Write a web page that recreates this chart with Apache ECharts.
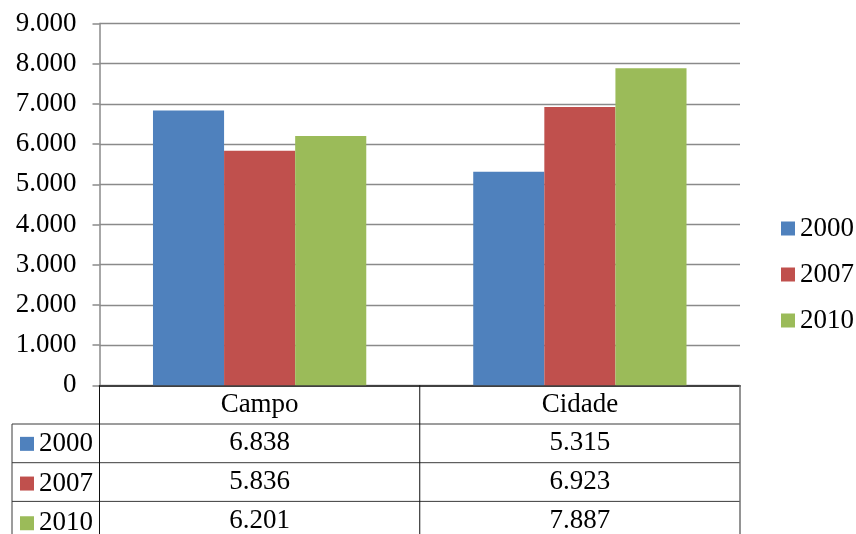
<!DOCTYPE html>
<html>
<head>
<meta charset="utf-8">
<script src="https://cdn.jsdelivr.net/npm/echarts@6/dist/echarts.min.js"></script>
<style>
  html, body { margin: 0; padding: 0; background: #fff; }
  #chart { width: 856px; height: 534px; }
</style>
</head>
<body>
<div id="chart"></div>
<script>
// Population by area and year
const categories = ['Campo', 'Cidade'];
const years = ['2000', '2007', '2010'];
const values2000 = [6838, 5315];
const values2007 = [5836, 6923];
const values2010 = [6201, 7887];
const colors = ['#4F81BD', '#C0504D', '#9BBB59'];

const seriesValues = [values2000, values2007, values2010];

// Layout of the plot and the data table beneath it
const W = 856, H = 534;
const GRID_LEFT = 99.5, GRID_RIGHT_X = 740, GRID_TOP = 23.5, GRID_BOTTOM_Y = 385.3;
const ROW_H = 38.7;
const TABLE_LEFT = 12;
const FONT = '"Liberation Serif", "Times New Roman", serif';
const FS = 27;

// Brazilian thousands separator
function fmt(v) {
  return String(v).replace(/\B(?=(\d{3})+(?!\d))/g, '.');
}

const chart = echarts.init(document.getElementById('chart'), null, { renderer: 'canvas' });

// Table grid lines
const tableLines = [];
const tableBottom = H + 2;
const firstRowY = GRID_BOTTOM_Y + ROW_H;
for (let r = 0; r < years.length; r++) {
  const y = firstRowY + r * ROW_H;
  tableLines.push({ type: 'line', shape: { x1: TABLE_LEFT, y1: y, x2: GRID_RIGHT_X, y2: y }, style: { stroke: '#3a3a3a', lineWidth: 1 }, z: 10 });
}
tableLines.push({ type: 'line', shape: { x1: TABLE_LEFT, y1: firstRowY, x2: TABLE_LEFT, y2: tableBottom }, style: { stroke: '#3a3a3a', lineWidth: 1 }, z: 10 });
const catW = (GRID_RIGHT_X - GRID_LEFT) / categories.length;
for (let c = 0; c <= categories.length; c++) {
  const x = GRID_LEFT + c * catW;
  tableLines.push({ type: 'line', shape: { x1: x, y1: GRID_BOTTOM_Y, x2: x, y2: tableBottom }, style: { stroke: c === categories.length ? '#707070' : '#111', lineWidth: c === categories.length ? 1.5 : 1 }, z: 10 });
}

const LH = 26;
const legendText = { fontFamily: FONT, fontSize: FS, color: '#000', lineHeight: LH };

const option = {
  animation: false,
  backgroundColor: '#fff',
  textStyle: { fontFamily: FONT, color: '#000' },
  color: colors,
  grid: {
    left: GRID_LEFT,
    right: W - GRID_RIGHT_X,
    top: GRID_TOP,
    bottom: H - GRID_BOTTOM_Y,
    containLabel: false,
    outerBoundsMode: 'none'
  },
  legend: [
    {
      orient: 'vertical',
      left: 781,
      top: 215,
      padding: 0,
      itemWidth: 14,
      itemHeight: 14,
      itemGap: 19,
      icon: 'rect',
      selectedMode: false,
      data: years,
      textStyle: legendText
    },
    {
      orient: 'vertical',
      left: 20,
      top: firstRowY + ROW_H / 2 - LH / 2,
      height: 200,
      padding: 0,
      itemWidth: 14,
      itemHeight: 14,
      itemGap: ROW_H - LH,
      icon: 'rect',
      selectedMode: false,
      data: years,
      textStyle: legendText
    }
  ],
  xAxis: {
    type: 'category',
    data: categories,
    axisLine: { show: true, lineStyle: { color: '#404040', width: 2 } },
    axisTick: { show: false },
    splitLine: { show: false },
    axisLabel: {
      interval: 0,
      margin: 0,
      fontFamily: FONT,
      fontSize: FS,
      color: '#000',
      lineHeight: ROW_H,
      verticalAlign: 'top',
      formatter: function (cat, idx) {
        const lines = [cat];
        seriesValues.forEach(function (arr) { lines.push(fmt(arr[idx])); });
        return lines.join('\n');
      }
    }
  },
  yAxis: {
    type: 'value',
    min: 0,
    max: 9000,
    interval: 1000,
    axisLine: { show: true, lineStyle: { color: '#8a8a8a', width: 1.5 } },
    axisTick: { show: true, inside: false, length: 7, lineStyle: { color: '#8a8a8a', width: 1.5 } },
    splitLine: { show: true, lineStyle: { color: '#8a8a8a', width: 1.4 } },
    axisLabel: {
      margin: 23,
      fontFamily: FONT,
      fontSize: FS,
      color: '#000',
      formatter: function (v) { return fmt(v); }
    }
  },
  series: years.map(function (yr, i) {
    return {
      name: yr,
      type: 'bar',
      data: seriesValues[i],
      barGap: '0%',
      barCategoryGap: '33.4%',
      itemStyle: { color: colors[i] }
    };
  }),
  graphic: tableLines
};

chart.setOption(option);
</script>
</body>
</html>
